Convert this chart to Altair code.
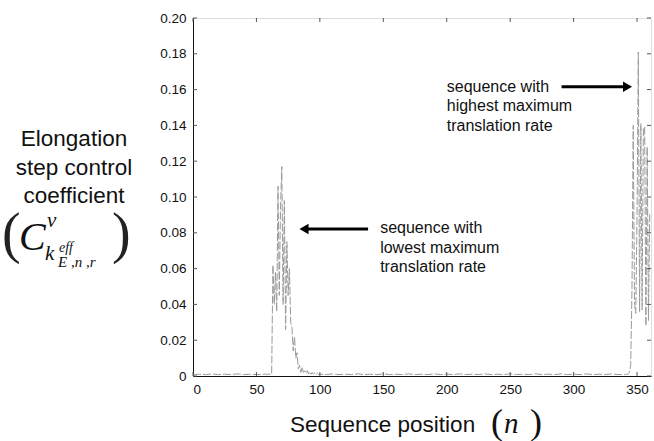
import altair as alt
import pandas as pd

# ---- data ----
positions = [0, 5, 10, 15, 20, 25, 30, 35, 40, 45, 50, 55,
             58, 59, 60, 61, 62, 63, 64, 65, 66, 67, 68, 69, 70, 71, 72, 73, 74,
             75, 76, 77, 78, 79, 80, 81, 82, 83, 84, 85, 86, 87, 88, 89, 90, 91,
             92, 93, 94, 95, 96, 97, 98, 99, 100,
             105, 110, 115, 120, 125, 130, 135, 140, 145, 150, 155, 160, 165,
             170, 175, 180, 185, 190, 195, 200, 205, 210, 215, 220, 225, 230,
             235, 240, 245, 250, 255, 260, 265, 270, 275, 280, 285, 290, 295,
             300, 305, 310, 315, 320, 325, 330, 335,
             340, 341, 342, 343, 344, 345, 346, 347, 348, 349, 350, 351, 352,
             353, 354, 355, 356, 357, 358, 359, 360]
values = [0.0008, 0.0010, 0.0008, 0.0012, 0.0008, 0.0010, 0.0008, 0.0012,
          0.0008, 0.0010, 0.0008, 0.0010,
          0.0010, 0.0008, 0.0012, 0.0008, 0.0010, 0.062, 0.040, 0.058, 0.036,
          0.106, 0.045, 0.095, 0.117, 0.040, 0.098, 0.026, 0.075,
          0.045, 0.060, 0.030, 0.027, 0.014, 0.022, 0.010, 0.013, 0.004, 0.006,
          0.002, 0.005, 0.002, 0.003, 0.0015, 0.003, 0.0012,
          0.0025, 0.0010, 0.0020, 0.0010, 0.0018, 0.0008, 0.0015, 0.0008, 0.0010,
          0.0008, 0.0012, 0.0008, 0.0010, 0.0008, 0.0012, 0.0008, 0.0010,
          0.0008, 0.0012, 0.0008, 0.0010, 0.0008,
          0.0012, 0.0008, 0.0010, 0.0008, 0.0012, 0.0008, 0.0010, 0.0008,
          0.0012, 0.0008, 0.0010, 0.0008, 0.0012,
          0.0008, 0.0010, 0.0008, 0.0012, 0.0008, 0.0010, 0.0008, 0.0012,
          0.0008, 0.0010, 0.0008, 0.0012, 0.0008,
          0.0010, 0.0008, 0.0012, 0.0008, 0.0010, 0.0008, 0.0012, 0.0008,
          0.0008, 0.0010, 0.0008, 0.0012, 0.0020, 0.006, 0.048, 0.140, 0.040,
          0.035, 0.090, 0.181, 0.036,
          0.141, 0.037, 0.139, 0.139, 0.028, 0.128, 0.031, 0.091]

x_ticks = [0, 50, 100, 150, 200, 250, 300, 350]
y_ticks = [0, 0.02, 0.04, 0.06, 0.08, 0.10, 0.12, 0.14, 0.16, 0.18, 0.20]

annot_text = ["sequence with\nlowest maximum\ntranslation rate",
              "sequence with\nhighest maximum\ntranslation rate"]
annot_x = [147.5, 200]
annot_y = [0.0797, 0.1588]

arrow_x1 = [87.5, 290.5]
arrow_x2 = [138, 342.5]
arrow_y = [0.0821, 0.1616]
arrow_head_x = [87.5, 342.5]
arrow_head_shape = ["triangle-left", "triangle-right"]

W, H = 458, 358
SANS = "Liberation Sans"
SERIF = "Liberation Serif"

df = pd.DataFrame({"n": positions, "c": values})
xs = alt.Scale(domain=[0, 361], nice=False, zero=False)
ys = alt.Scale(domain=[0, 0.2], nice=False)

x_axis = alt.Axis(values=x_ticks, title=None, ticks=False,
                  labelFontSize=13.5, labelFont=SANS, labelColor="#111",
                  labelPadding=6, labelOverlap=False, domainColor="#111", grid=False)
y_axis = alt.Axis(values=y_ticks, title=None, ticks=False,
                  labelExpr="datum.value == 0 ? '0' : format(datum.value, '.2f')",
                  labelFontSize=13.5, labelFont=SANS, labelColor="#111",
                  labelPadding=7, labelOverlap=False, domainColor="#111", grid=False)

line = alt.Chart(df).mark_line(color="#9a9a9a", strokeWidth=1, strokeDash=[8, 2],
                               clip=True).encode(
    x=alt.X("n:Q", scale=xs, axis=x_axis),
    y=alt.Y("c:Q", scale=ys, axis=y_axis),
)

xt = pd.DataFrame({"t": x_ticks})
yt = pd.DataFrame({"t": y_ticks})
tick_col = "#555"
xb = alt.Chart(xt).mark_rule(color=tick_col, strokeWidth=1).encode(
    x=alt.X("t:Q", scale=xs, axis=x_axis), y=alt.value(H), y2=alt.value(H - 4))
xtop = alt.Chart(xt).mark_rule(color=tick_col, strokeWidth=1).encode(
    x=alt.X("t:Q", scale=xs, axis=x_axis), y=alt.value(0), y2=alt.value(4))
yl = alt.Chart(yt).mark_rule(color=tick_col, strokeWidth=1).encode(
    y=alt.Y("t:Q", scale=ys, axis=y_axis), x=alt.value(0), x2=alt.value(4))
yr = alt.Chart(yt).mark_rule(color=tick_col, strokeWidth=1).encode(
    y=alt.Y("t:Q", scale=ys, axis=y_axis), x=alt.value(W), x2=alt.value(W - 4))

adf = pd.DataFrame({"x1": arrow_x1, "x2": arrow_x2, "y": arrow_y,
                    "hx": arrow_head_x, "shape": arrow_head_shape})
arrows = alt.Chart(adf).mark_rule(color="black", strokeWidth=3).encode(
    x=alt.X("x1:Q", scale=xs, axis=x_axis), x2="x2:Q",
    y=alt.Y("y:Q", scale=ys, axis=y_axis))
heads = alt.Chart(adf).mark_point(filled=True, color="black", opacity=1, size=110).encode(
    x=alt.X("hx:Q", scale=xs, axis=x_axis), y=alt.Y("y:Q", scale=ys, axis=y_axis),
    shape=alt.Shape("shape:N", scale=None))

tdf = pd.DataFrame({"x": annot_x, "y": annot_y, "t": annot_text})
annots = alt.Chart(tdf).mark_text(align="left", baseline="alphabetic", font=SANS,
                                  fontSize=16, lineBreak="\n", lineHeight=19.5,
                                  color="#111").encode(
    x=alt.X("x:Q", scale=xs, axis=x_axis), y=alt.Y("y:Q", scale=ys, axis=y_axis),
    text="t:N")


def label(txt, x, y, size, font=SANS, style="normal", align="left", lh=None,
          weight="normal", color="#111"):
    kw = dict(align=align, baseline="alphabetic", font=font, fontSize=size,
              fontStyle=style, fontWeight=weight, color=color)
    if lh is not None:
        kw.update(lineBreak="\n", lineHeight=lh)
    return alt.Chart(pd.DataFrame({"t": [txt]})).mark_text(**kw).encode(
        x=alt.value(x), y=alt.value(y), text="t:N")


texts = [
    label("Elongation\nstep control\ncoefficient", -119, 128, 22.5, align="center", lh=28.5),
    label("(", -191, 234, 56, font=SERIF, weight=300, color="#222"),
    label("C", -174, 232, 40, font=SERIF, style="italic"),
    label("v", -146, 209, 21, font=SERIF, style="italic"),
    label("k", -148, 242, 21, font=SERIF, style="italic"),
    label("eff", -134, 234, 14, font=SERIF, style="italic"),
    label("E ,n ,r", -135, 249, 15, font=SERIF, style="italic"),
    label(")", -81, 234, 56, font=SERIF, weight=300, color="#222"),
    label("Sequence position", 97, 413.5, 22.5),
    label("(", 298, 416, 36, font=SERIF),
    label("n", 311, 415, 29, font=SERIF, style="italic"),
    label(")", 337, 416, 36, font=SERIF),
]

chart = alt.layer(line, xb, xtop, yl, yr, arrows, heads, annots, *texts).properties(
    width=W, height=H,
    autosize=alt.AutoSizeParams(type="none"),
    padding={"left": 193, "top": 18, "right": 3, "bottom": 65},
).configure_view(stroke="#111", strokeWidth=1).configure_axis(
    labelOverlap=False
).configure(background="white")

chart.save("out.html", embed_options={"renderer": "svg", "actions": False})
